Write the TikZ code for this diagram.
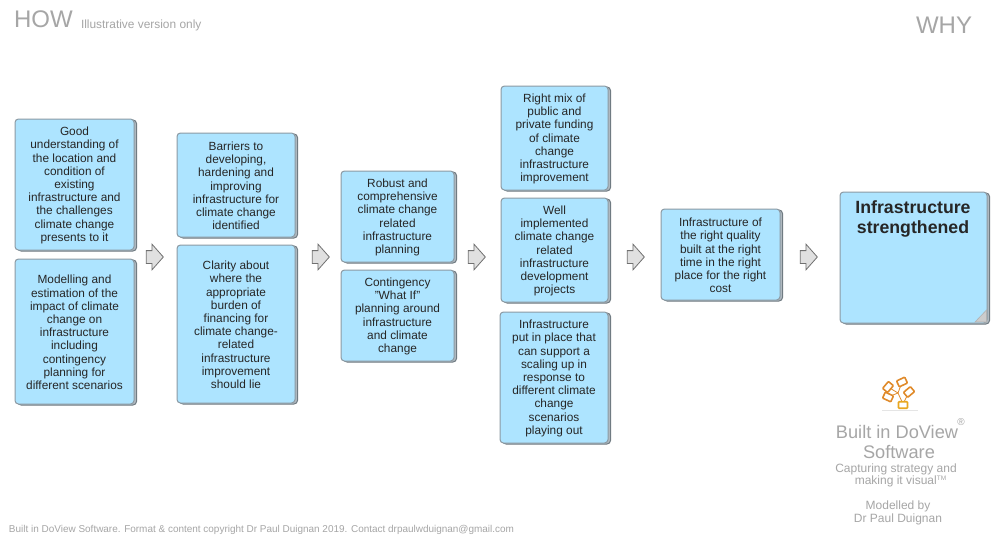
\documentclass[tikz,border=0pt]{standalone}
\usepackage{fontspec}
\setmainfont{Liberation Sans}
\usetikzlibrary{shadows,shapes.arrows,calc}
\definecolor{boxfill}{HTML}{ADE4FF}
\definecolor{boxline}{HTML}{8C9AA3}
\definecolor{txt}{HTML}{262626}
\definecolor{greytxt}{HTML}{A6A6A6}
\definecolor{arrowfill}{HTML}{E0E0E0}
\definecolor{arrowline}{HTML}{707070}
\definecolor{logoor}{HTML}{E08A2A}
\tikzset{
  x=1pt,y=-1pt,
  box/.style={draw=boxline,line width=1pt,fill=boxfill,rounded corners=3.5pt,align=center,
    text=txt,font=\fontsize{11.85}{13.2}\selectfont,inner sep=0pt,outer sep=0pt,anchor=north west,
    copy shadow={shadow xshift=2.5pt,shadow yshift=-1pt,draw=boxline!80!black,fill=boxline!70!white,line width=1pt}},
  flow/.style={single arrow,draw=arrowline,fill=arrowfill,line width=.8pt,minimum width=25pt,
    minimum height=17pt,single arrow head extend=6.5pt,single arrow tip angle=97,inner sep=0pt,outer sep=0pt,
    text height=12pt,text depth=0pt,shape border rotate=0},
  grey/.style={text=greytxt,inner sep=0pt,outer sep=0pt,align=center},
  logobox/.style={draw=logoor,line width=1.6pt,fill=white,rounded corners=.8pt,minimum width=9pt,minimum height=6.5pt,inner sep=0pt},
  logoline/.style={draw=logoor,line width=.8pt}
}
\newcommand{\bx}[6]{\node[box,minimum width=#4-#2,minimum height=#5-#3] (#1) at (#2,#3) {\rule{0pt}{10.5pt}#6};}
\begin{document}
\begin{tikzpicture}
\useasboundingbox (0,0) rectangle (1000,535);
\fill[white] (0,0) rectangle (1000,535);

\node[grey,anchor=west,font=\fontsize{24}{24}\selectfont] (how) at (14,19) {HOW};
\node[grey,anchor=west,font=\fontsize{11.9}{12}\selectfont] (ill) at (81,25) {Illustrative version only};
\node[grey,anchor=east,font=\fontsize{24}{24}\selectfont] (why) at (972,25) {WHY};

\bx{a1}{15}{119}{134}{250}{Good\\understanding of\\the location and\\condition of\\existing\\infrastructure and\\the challenges\\climate change\\presents to it}
\bx{a2}{15}{259}{134}{404}{Modelling and\\estimation of the\\impact of climate\\change on\\infrastructure\\including\\contingency\\planning for\\different scenarios}
\bx{b1}{177}{133}{295}{237}{Barriers to\\developing,\\hardening and\\improving\\infrastructure for\\climate change\\identified}
\bx{b2}{177}{245}{295}{403}{Clarity about\\where the\\appropriate\\burden of\\financing for\\climate change-\\related\\infrastructure\\improvement\\should lie}
\bx{c1}{341}{171}{454}{262}{Robust and\\comprehensive\\climate change\\related\\infrastructure\\planning}
\bx{c2}{341}{270}{454}{361}{Contingency\\"What If"\\planning around\\infrastructure\\and climate\\change}
\bx{d1}{501}{86}{608}{190}{Right mix of\\public and\\private funding\\of climate\\change\\infrastructure\\improvement}
\bx{d2}{501}{198}{608}{302}{Well\\implemented\\climate change\\related\\infrastructure\\development\\projects}
\bx{d3}{500}{312}{608}{443}{Infrastructure\\put in place that\\can support a\\scaling up in\\response to\\different climate\\change\\scenarios\\playing out}
\bx{e1}{661}{209}{780}{300}{Infrastructure of\\the right quality\\built at the right\\time in the right\\place for the right\\cost}
\bx{f1}{840}{192}{987}{323}{}
\node[inner sep=0pt,align=center,text=txt,font=\fontsize{17.7}{20}\selectfont\bfseries,anchor=north] (f1t) at (913,200) {Infrastructure\\strengthened};

% folded corner
\coordinate (fa) at (986.5,310);
\coordinate (fb) at (975,322);
\coordinate (fc) at (986.5,322);
\fill[gray!40,draw=gray!60,line width=.6pt] (fa) -- (fb) -- (fc) -- cycle;

\node[flow] (r1) at (152,257) {};
\node[flow] (r2) at (318,257) {};
\node[flow] (r3) at (474,257) {};
\node[flow] (r4) at (633,257) {};
\node[flow] (r5) at (806,257) {};

% logo
\coordinate (lgroot) at (903,404);
\coordinate (lga) at (888,397);
\coordinate (lgb) at (888,387);
\coordinate (lgc) at (902,382);
\coordinate (lgd) at (909,392);
\draw[logoline] (lgroot) -- (898,393) -- (lga) (898,393) -- (lgb) (898,393) -- (lgc) (lgroot) -- (lgd);
\node[logobox,rotate=-25] (lg1) at (lga) {};
\node[logobox,rotate=50] (lg2) at (lgb) {};
\node[logobox,rotate=25] (lg3) at (lgc) {};
\node[logobox,rotate=40] (lg4) at (lgd) {};
\node[logobox,draw=logoor!75!yellow] (lg5) at (903,405) {};
\fill[gray!20] (882,409.6) -- (918,409.6) -- (918,410.2) -- (882,410.2) -- cycle;

\node[grey,font=\fontsize{18.2}{20.5}\selectfont,anchor=north] (built) at (897,425) {Built in DoView};
\node[grey,font=\fontsize{18.2}{20.5}\selectfont,anchor=north] (soft) at (899,445) {Software};
\node[grey,font=\fontsize{10}{10}\selectfont,anchor=center] (reg) at (961,422) {®};
\node[grey,font=\fontsize{12}{13.3}\selectfont,anchor=north] (cap) at (896,464) {Capturing strategy and};
\node[grey,font=\fontsize{12}{13.3}\selectfont,anchor=north] (cap2) at (900.5,476) {making it visual\raisebox{4pt}{\fontsize{6.5}{7}\selectfont TM}};
\node[grey,font=\fontsize{12}{13.3}\selectfont,anchor=north] (mod) at (898,500.5) {Modelled by\\Dr Paul Duignan};
\node[grey,anchor=west,font=\fontsize{9.96}{10}\selectfont] (foot) at (9,529.5) {Built in DoView Software. Format \& content copyright Dr Paul Duignan 2019. Contact drpaulwduignan@gmail.com};
\end{tikzpicture}
\end{document}
